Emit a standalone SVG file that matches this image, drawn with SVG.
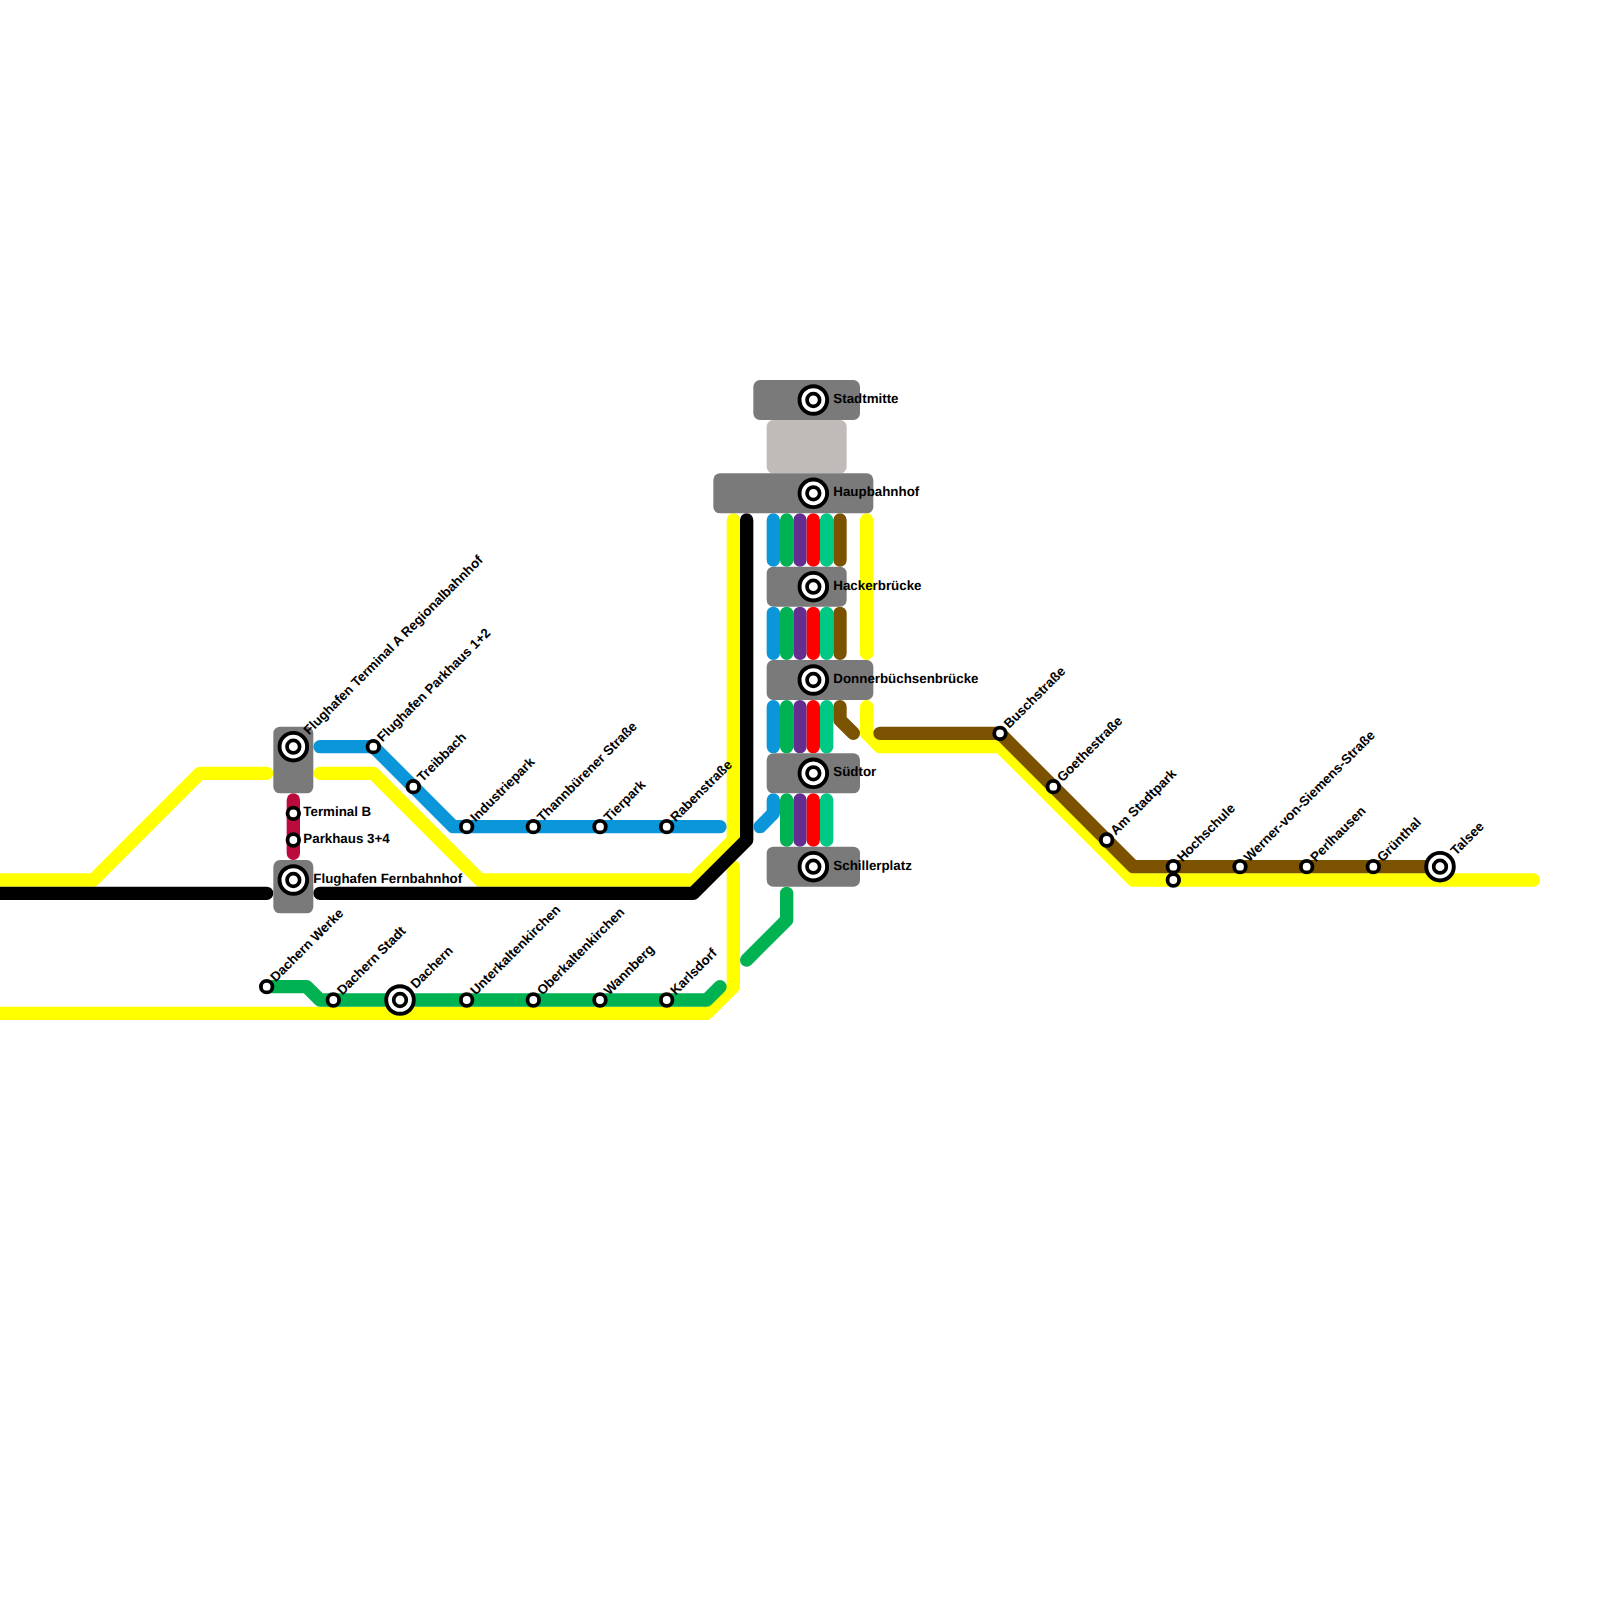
<svg xmlns="http://www.w3.org/2000/svg" width="1600" height="1600" viewBox="0 0 1600 1600">
<style>
.l{fill:none;stroke-width:13.33;stroke-linecap:round;stroke-linejoin:round}
.y{stroke:#ffff00}.k{stroke:#000}.b{stroke:#0a96d8}.g{stroke:#00b251}.p{stroke:#662d91}.r{stroke:#ff0000}.t{stroke:#00c885}.w{stroke:#7a5200}.c{stroke:#bb0a3c}
.box{fill:#7a7a7a}.box2{fill:#bfbbb9}
.s{fill:#fff;stroke:#000;stroke-width:3.8}
.s1{fill:#fff;stroke:#000;stroke-width:3.9}
.s2{fill:#fff;stroke:#000;stroke-width:3.7}
text{font-family:"Liberation Sans",Arial,sans-serif;font-weight:bold;font-size:13.33px;fill:#000;text-rendering:geometricPrecision}
</style>
<rect width="1600" height="1600" fill="#fff"/>
<g id="connectors">
<path class="l y" d="M0 880H93.33L200 773.33H266.67"/>
<path class="l y" d="M320 773.33H373.33L480 880H693.33L733.33 840V520"/>
<path class="l y" d="M733.33 866.67V986.67L706.67 1013.33H0"/>
<path class="l y" d="M866.67 520V653.33"/>
<path class="l y" d="M866.67 706.67V733.33L880 746.67H1000L1133.33 880H1533.33"/>
<path class="l k" d="M0 893.33H266.67"/>
<path class="l k" d="M320 893.33H693.33L746.67 840V520"/>
<path class="l c" d="M293.33 800V853.33"/>
<path class="l b" d="M320 746.67H373.33L453.33 826.67H720"/>
<path class="l g" d="M266.67 986.67H306.67L320 1000H706.67L720 986.67"/>
<path class="l b" d="M773.33 520V560M773.33 613.33V653.33M773.33 706.67V746.67"/>
<path class="l b" d="M773.33 800V813.33L760 826.67"/>
<path class="l g" d="M786.67 520V560M786.67 613.33V653.33M786.67 706.67V746.67M786.67 800V840"/>
<path class="l g" d="M786.67 893.33V920L746.67 960"/>
<path class="l p" d="M800 520V560M800 613.33V653.33M800 706.67V746.67M800 800V840"/>
<path class="l r" d="M813.33 520V560M813.33 613.33V653.33M813.33 706.67V746.67M813.33 800V840"/>
<path class="l t" d="M826.67 520V560M826.67 613.33V653.33M826.67 706.67V746.67M826.67 800V840"/>
<path class="l w" d="M840 520V560M840 613.33V653.33"/>
<path class="l w" d="M840 706.67V720L853.33 733.33"/>
<path class="l w" d="M880 733.33H1000L1133.33 866.67H1440"/>
</g>
<g id="connection-box"><rect class="box2" x="766.67" y="420" width="80" height="53.33" rx="6.67"/></g>
<g id="stadtmitte"><rect class="box" x="753.33" y="380" width="106.67" height="40" rx="6.67"/><circle class="s1" cx="813.33" cy="400" r="13.8"/><circle class="s2" cx="813.33" cy="400" r="6.3"/><text x="833.33" y="403">Stadtmitte</text></g>
<g id="hauptbahnhof"><rect class="box" x="713.33" y="473.33" width="160" height="40" rx="6.67"/><circle class="s1" cx="813.33" cy="493.33" r="13.8"/><circle class="s2" cx="813.33" cy="493.33" r="6.3"/><text x="833.33" y="496.3">Haupbahnhof</text></g>
<g id="hackerbruecke"><rect class="box" x="766.67" y="566.67" width="80" height="40" rx="6.67"/><circle class="s1" cx="813.33" cy="586.67" r="13.8"/><circle class="s2" cx="813.33" cy="586.67" r="6.3"/><text x="833.33" y="589.7">Hackerbrücke</text></g>
<g id="donnerbuechsenbruecke"><rect class="box" x="766.67" y="660" width="106.67" height="40" rx="6.67"/><circle class="s1" cx="813.33" cy="680" r="13.8"/><circle class="s2" cx="813.33" cy="680" r="6.3"/><text x="833.33" y="683">Donnerbüchsenbrücke</text></g>
<g id="suedtor"><rect class="box" x="766.67" y="753.33" width="93.33" height="40" rx="6.67"/><circle class="s1" cx="813.33" cy="773.33" r="13.8"/><circle class="s2" cx="813.33" cy="773.33" r="6.3"/><text x="833.33" y="776.3">Südtor</text></g>
<g id="schillerplatz"><rect class="box" x="766.67" y="846.67" width="93.33" height="40" rx="6.67"/><circle class="s1" cx="813.33" cy="866.67" r="13.8"/><circle class="s2" cx="813.33" cy="866.67" r="6.3"/><text x="833.33" y="869.7">Schillerplatz</text></g>
<g id="flughafen-terminal-a"><rect class="box" x="273.33" y="726.67" width="40" height="66.67" rx="6.67"/><circle class="s1" cx="293.33" cy="746.67" r="13.8"/><circle class="s2" cx="293.33" cy="746.67" r="6.3"/><text x="309" y="735.5" transform="rotate(-45 309 735.5)">Flughafen Terminal A Regionalbahnhof</text></g>
<g id="flughafen-fernbahnhof"><rect class="box" x="273.33" y="860" width="40" height="53.33" rx="6.67"/><circle class="s1" cx="293.33" cy="880" r="13.8"/><circle class="s2" cx="293.33" cy="880" r="6.3"/><text x="313.33" y="882.6">Flughafen Fernbahnhof</text></g>
<g id="terminal-b"><circle class="s" cx="293.33" cy="813.33" r="5.8"/><text x="303.33" y="816.3">Terminal B</text></g>
<g id="parkhaus-34"><circle class="s" cx="293.33" cy="840" r="5.8"/><text x="303.33" y="843">Parkhaus 3+4</text></g>
<g id="flughafen-parkhaus"><circle class="s" cx="373.33" cy="746.67" r="5.8"/><text x="382.5" y="742.5" transform="rotate(-45 382.5 742.5)">Flughafen Parkhaus 1+2</text></g>
<g id="treibbach"><circle class="s" cx="413.33" cy="786.67" r="5.8"/><text x="422.5" y="782.5" transform="rotate(-45 422.5 782.5)">Treibbach</text></g>
<g id="industriepark"><circle class="s" cx="466.67" cy="826.67" r="5.8"/><text x="475.8" y="822.5" transform="rotate(-45 475.8 822.5)">Industriepark</text></g>
<g id="thannbuerener"><circle class="s" cx="533.33" cy="826.67" r="5.8"/><text x="542.5" y="822.5" transform="rotate(-45 542.5 822.5)">Thannbürener Straße</text></g>
<g id="tierpark"><circle class="s" cx="600" cy="826.67" r="5.8"/><text x="609.2" y="822.5" transform="rotate(-45 609.2 822.5)">Tierpark</text></g>
<g id="rabenstrasse"><circle class="s" cx="666.67" cy="826.67" r="5.8"/><text x="675.8" y="822.5" transform="rotate(-45 675.8 822.5)">Rabenstraße</text></g>
<g id="dachern-werke"><circle class="s" cx="266.67" cy="986.67" r="5.8"/><text x="275.8" y="982.5" transform="rotate(-45 275.8 982.5)">Dachern Werke</text></g>
<g id="dachern-stadt"><circle class="s" cx="333.33" cy="1000" r="5.8"/><text x="342.5" y="995.8" transform="rotate(-45 342.5 995.8)">Dachern Stadt</text></g>
<g id="dachern"><circle class="s1" cx="400" cy="1000" r="13.8"/><circle class="s2" cx="400" cy="1000" r="6.3"/><text x="416" y="989.3" transform="rotate(-45 416 989.3)">Dachern</text></g>
<g id="unterkaltenkirchen"><circle class="s" cx="466.67" cy="1000" r="5.8"/><text x="475.8" y="995.8" transform="rotate(-45 475.8 995.8)">Unterkaltenkirchen</text></g>
<g id="oberkaltenkirchen"><circle class="s" cx="533.33" cy="1000" r="5.8"/><text x="542.5" y="995.8" transform="rotate(-45 542.5 995.8)">Oberkaltenkirchen</text></g>
<g id="wannberg"><circle class="s" cx="600" cy="1000" r="5.8"/><text x="609.2" y="995.8" transform="rotate(-45 609.2 995.8)">Wannberg</text></g>
<g id="karlsdorf"><circle class="s" cx="666.67" cy="1000" r="5.8"/><text x="675.8" y="995.8" transform="rotate(-45 675.8 995.8)">Karlsdorf</text></g>
<g id="buschstrasse"><circle class="s" cx="1000" cy="733.33" r="5.8"/><text x="1009.2" y="729.1" transform="rotate(-45 1009.2 729.1)">Buschstraße</text></g>
<g id="goethestrasse"><circle class="s" cx="1053.33" cy="786.67" r="5.8"/><text x="1062.5" y="782.5" transform="rotate(-45 1062.5 782.5)">Goethestraße</text></g>
<g id="am-stadtpark"><circle class="s" cx="1106.67" cy="840" r="5.8"/><text x="1115.8" y="835.8" transform="rotate(-45 1115.8 835.8)">Am Stadtpark</text></g>
<g id="hochschule"><circle class="s" cx="1173.33" cy="880" r="5.8"/><circle class="s" cx="1173.33" cy="866.67" r="5.8"/><text x="1182.5" y="862.5" transform="rotate(-45 1182.5 862.5)">Hochschule</text></g>
<g id="werner-von-siemens"><circle class="s" cx="1240" cy="866.67" r="5.8"/><text x="1249.2" y="862.5" transform="rotate(-45 1249.2 862.5)">Werner-von-Siemens-Straße</text></g>
<g id="perlhausen"><circle class="s" cx="1306.67" cy="866.67" r="5.8"/><text x="1315.8" y="862.5" transform="rotate(-45 1315.8 862.5)">Perlhausen</text></g>
<g id="gruenthal"><circle class="s" cx="1373.33" cy="866.67" r="5.8"/><text x="1382.5" y="862.5" transform="rotate(-45 1382.5 862.5)">Grünthal</text></g>
<g id="talsee"><circle class="s1" cx="1440" cy="866.67" r="13.8"/><circle class="s2" cx="1440" cy="866.67" r="6.3"/><text x="1456" y="856" transform="rotate(-45 1456 856)">Talsee</text></g>
</svg>
